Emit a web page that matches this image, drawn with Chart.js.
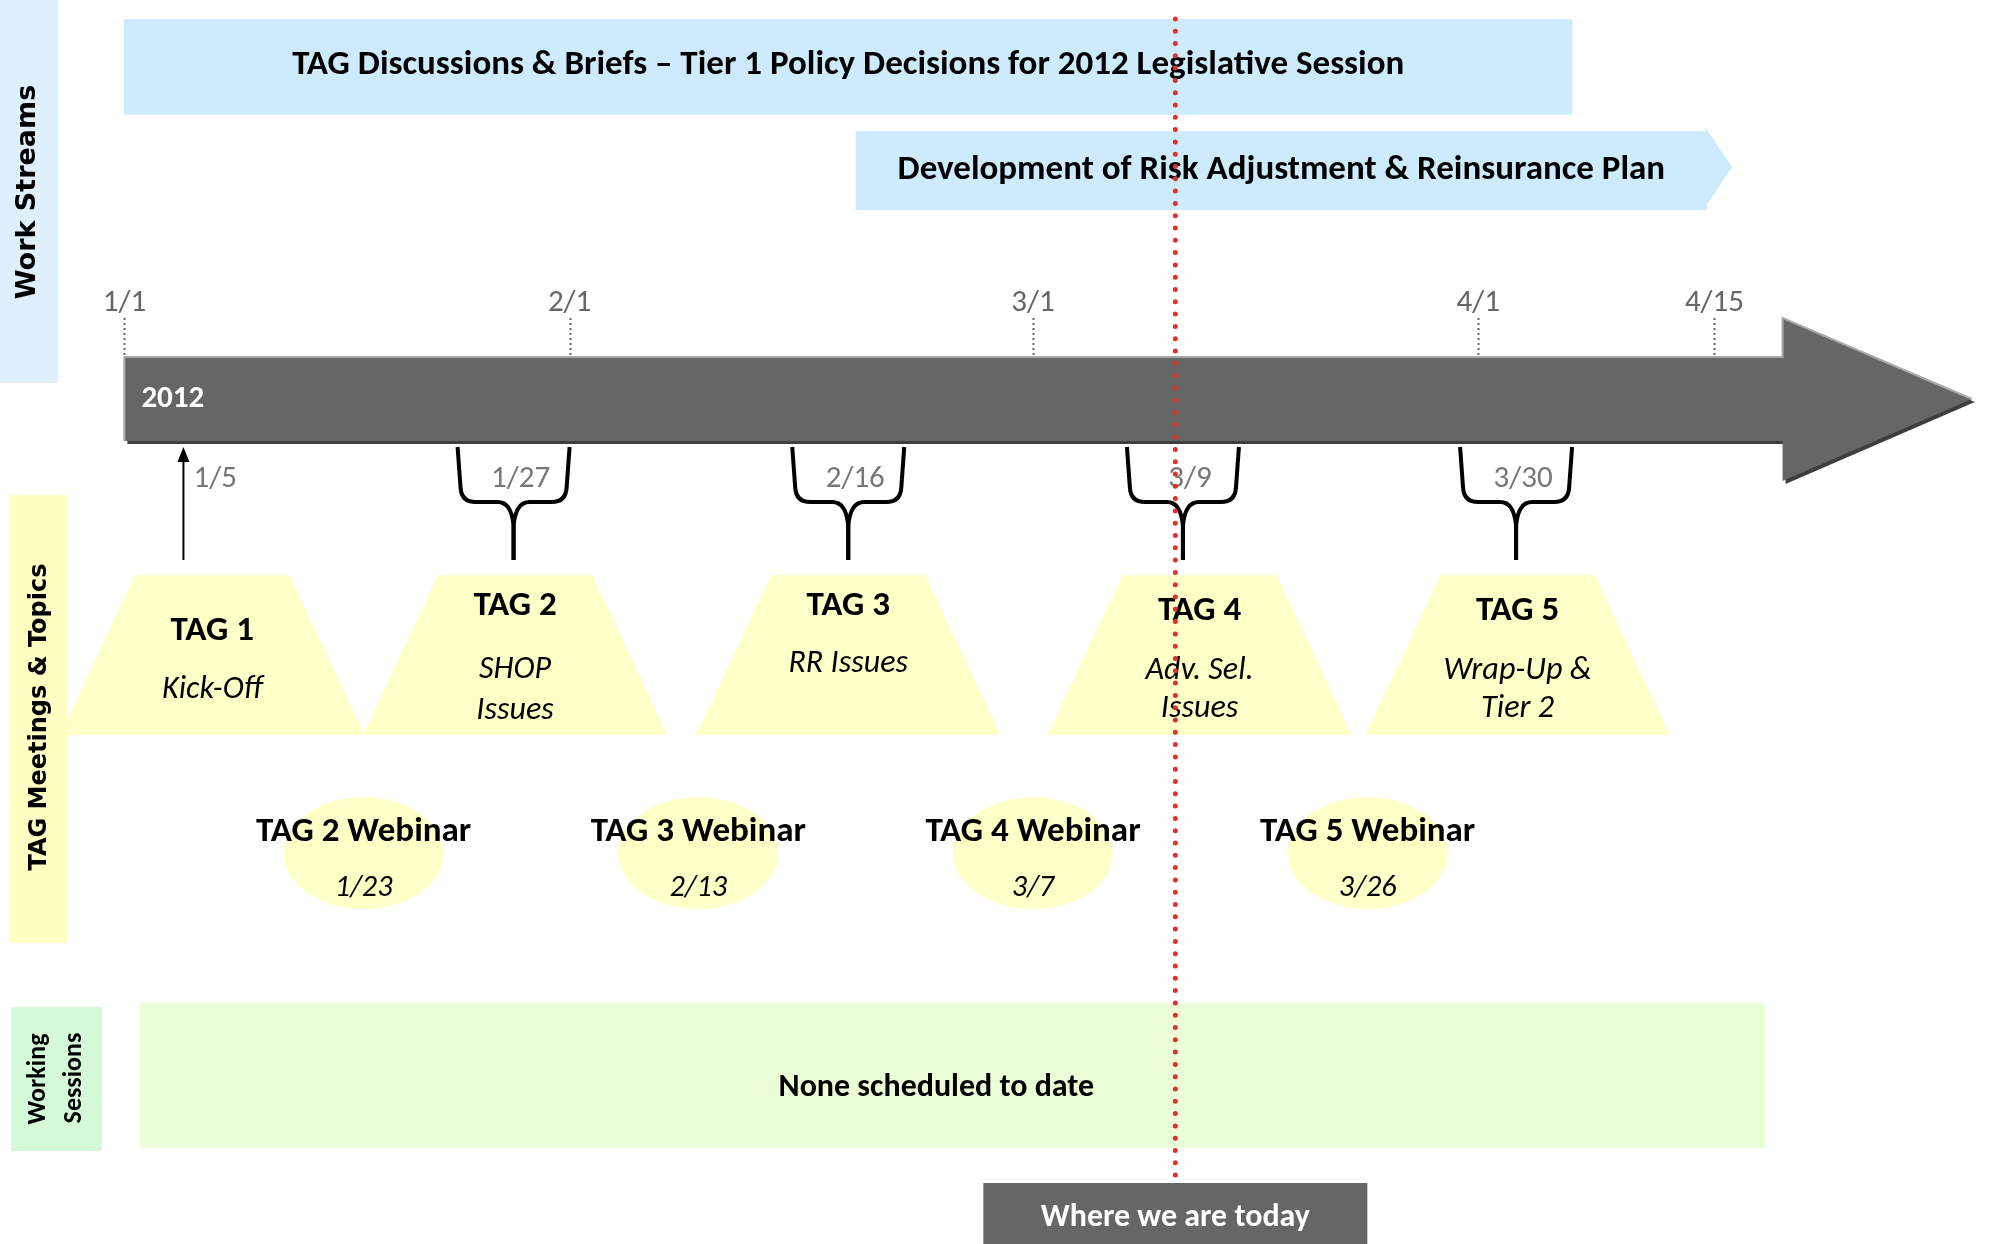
<!DOCTYPE html>
<html><head><meta charset="utf-8">
<script src="https://cdn.jsdelivr.net/npm/chart.js@4.4.1/dist/chart.umd.min.js"></script>
<style>html,body{margin:0;padding:0;background:#fff;overflow:hidden}#wrap{position:relative;width:1990px;height:1244px}</style>
</head><body><div id="wrap"><canvas id="c"></canvas></div>
<script>
// ---------- DATA (positions along the timeline, in days after 1/1/2012, as drawn) ----------
const tickLabels = ['1/1', '2/1', '3/1', '4/1', '4/15'];
const tickPos = [0, 29.4, 60, 89.4, 105];
const timelineYear = '2012';
const timelineSpan = [0, 109.5, 122.0];      // body start, body end, arrow tip
const workStreams = ['TAG Discussions & Briefs \u2013 Tier 1 Policy Decisions for 2012 Legislative Session',
                     'Development of Risk Adjustment & Reinsurance Plan'];
const workStart = [0, 48.3];
const workEnd = [95.6, 104.5];
const meetingNames = ['TAG 1', 'TAG 2', 'TAG 3', 'TAG 4', 'TAG 5'];
const meetingTopics = [['Kick-Off'], ['SHOP', 'Issues'], ['RR Issues'], ['Adv. Sel.', 'Issues'], ['Wrap-Up &', 'Tier 2']];
const meetingDates = ['1/5', '1/27', '2/16', '3/9', '3/30'];
const meetingMarkPos = [3.9, 25.7, 47.8, 69.9, 91.9];
const meetingBoxPos = [5.8, 25.8, 47.8, 71.0, 92.0];
const webinarNames = ['TAG 2 Webinar', 'TAG 3 Webinar', 'TAG 4 Webinar', 'TAG 5 Webinar'];
const webinarDates = ['1/23', '2/13', '3/7', '3/26'];
const webinarPos = [15.8, 37.9, 60.0, 82.1];
const sessionText = 'None scheduled to date';
const sessionSpan = [1.05, 108.3];
const todayPos = 69.4;
const todayLabel = 'Where we are today';
const rowLabels = ['Work Streams', 'TAG Meetings & Topics', ['Working', 'Sessions']];

// ---------- LAYOUT / STYLE ----------
const L = {
  xMin: -7.884, xMax: 122.865, H: 1244,
  ws1Y: 62.5, ws1H: 95, ws2Y: 167, ws2H: 78, chevronW: 25,
  tickLabelY: 301, tickTop: 318, barTop: 357, barBot: 441, headTop: 318, headBot: 481,
  yearY: 397, yearDx: 17,
  markTop: 447, braceMid: 502, markBot: 560, braceHW: 56, dateY: 477,
  trapY: 655, trapH: 160, trapTop: 154, trapBot: 304,
  meetTitleY: [628, 603, 603, 608, 608],
  meetTopicY: [[687], [667, 708], [661], [668, 706], [668, 706]],
  webY: 855, webW: 160, webH: 112, webTitleY: 829, webDateY: 886,
  sessY: 1079, sessH: 144,
  todayTop: 14, todayBot: 1183, todayBoxW: 384, todayTextY: 1215,
  strips: [
    {x: 0, y: 0, w: 58, h: 383, c: '#dfeffc'},
    {x: 9, y: 495, w: 58, h: 448, c: '#ffffc4'},
    {x: 11, y: 1007, w: 91, h: 144, c: '#d4f9d8'}
  ]
};
const BLUE = '#cdebfd', YELLOW = '#ffffc8', GREEN = '#ebfdd6', DARK = '#666666';
const SANS = "Carlito, 'Liberation Sans Narrow', 'Open Sans', 'Liberation Sans', sans-serif";
const WIDE = "'DejaVu Sans', Verdana, sans-serif";

// ---------- helpers ----------
const mctx = document.createElement('canvas').getContext('2d');
function fontStr(o) { return `${o.style || 'normal'} ${o.weight || 'normal'} ${o.size}px ${o.family || SANS}`; }
function ratioFor(text, target, o) { mctx.font = fontStr(o); return Math.min(1, target / mctx.measureText(text).width); }
const R_BOLD = ratioFor(workStreams[0], 1112, {weight: 'bold', size: 35});
const R_ITAL = ratioFor('Wrap-Up &', 148, {style: 'italic', size: 33});
const R_REG = ratioFor('4/15', 62, {size: 31});

function txt(ctx, text, x, cy, o) {
  ctx.save();
  ctx.font = fontStr(o);
  ctx.fillStyle = o.color || '#000';
  ctx.textAlign = o.align || 'center';
  ctx.textBaseline = 'alphabetic';
  const w = ctx.measureText(text).width;
  const r = o.ratio || 1;
  ctx.fillText(text, x, cy + o.size * 0.33, Math.max(1, w * r));
  ctx.restore();
}
function vtxt(ctx, text, x, cy, o) {
  ctx.save();
  ctx.translate(x, cy);
  ctx.rotate(-Math.PI / 2);
  ctx.font = fontStr(o);
  ctx.fillStyle = '#000';
  ctx.textAlign = 'center';
  ctx.textBaseline = 'middle';
  ctx.fillText(text, 0, 0, o.maxW);
  ctx.restore();
}
function makeTrap() {
  const c = document.createElement('canvas'); c.width = L.trapBot; c.height = L.trapH;
  const g = c.getContext('2d'); g.fillStyle = YELLOW; g.beginPath();
  g.moveTo((L.trapBot - L.trapTop) / 2, 0); g.lineTo((L.trapBot + L.trapTop) / 2, 0);
  g.lineTo(L.trapBot, L.trapH); g.lineTo(0, L.trapH); g.closePath(); g.fill(); return c;
}
function makeEllipse() {
  const c = document.createElement('canvas'); c.width = L.webW; c.height = L.webH;
  const g = c.getContext('2d'); g.fillStyle = YELLOW; g.beginPath();
  g.ellipse(L.webW / 2, L.webH / 2, L.webW / 2, L.webH / 2, 0, 0, Math.PI * 2); g.fill(); return c;
}
function drawBrace(ctx, cx) {
  const hw = L.braceHW, t = L.markTop, m = L.braceMid, b = L.markBot;
  ctx.save(); ctx.strokeStyle = '#000'; ctx.lineWidth = 4; ctx.lineJoin = 'round'; ctx.lineCap = 'butt';
  for (const s of [-1, 1]) {
    ctx.beginPath();
    ctx.moveTo(cx + s * hw, t);
    ctx.lineTo(cx + s * (hw - 3), m - 14);
    ctx.quadraticCurveTo(cx + s * (hw - 4), m, cx + s * (hw - 18), m);
    ctx.lineTo(cx + s * 16, m);
    ctx.quadraticCurveTo(cx + s * 2, m, cx, m + 24);
    ctx.lineTo(cx, b);
    ctx.stroke();
  }
  ctx.restore();
}
function drawUpArrow(ctx, cx) {
  ctx.save(); ctx.strokeStyle = '#000'; ctx.fillStyle = '#000'; ctx.lineWidth = 2;
  ctx.beginPath(); ctx.moveTo(cx, L.markBot); ctx.lineTo(cx, L.markTop + 12); ctx.stroke();
  ctx.beginPath(); ctx.moveTo(cx, L.markTop); ctx.lineTo(cx - 6, L.markTop + 15); ctx.lineTo(cx + 6, L.markTop + 15); ctx.closePath(); ctx.fill();
  ctx.restore();
}

// ---------- plugin ----------
const diagram = {
  id: 'diagram',
  beforeDatasetsDraw(chart) {
    const ctx = chart.ctx, xs = chart.scales.x;
    const x0 = xs.getPixelForValue(timelineSpan[0]), x1 = xs.getPixelForValue(timelineSpan[1]), xt = xs.getPixelForValue(timelineSpan[2]);
    const midY = (L.barTop + L.barBot) / 2;
    const poly = (dx, dy) => {
      ctx.beginPath();
      ctx.moveTo(x0 + dx, L.barTop + dy); ctx.lineTo(x1 + dx, L.barTop + dy); ctx.lineTo(x1 + dx, L.headTop + dy);
      ctx.lineTo(xt + dx, midY + dy); ctx.lineTo(x1 + dx, L.headBot + dy); ctx.lineTo(x1 + dx, L.barBot + dy);
      ctx.lineTo(x0 + dx, L.barBot + dy); ctx.closePath();
    };
    ctx.save();
    ctx.fillStyle = '#3e3e3e'; poly(3, 3); ctx.fill();
    ctx.fillStyle = DARK; poly(0, 0); ctx.fill();
    ctx.strokeStyle = '#a8a8a8'; ctx.lineWidth = 2;
    ctx.beginPath(); ctx.moveTo(x0, L.barBot); ctx.lineTo(x0, L.barTop); ctx.lineTo(x1, L.barTop); ctx.lineTo(x1, L.headTop); ctx.lineTo(xt, midY); ctx.stroke();
    // ticks
    ctx.strokeStyle = '#666'; ctx.lineWidth = 2; ctx.setLineDash([2, 3]);
    tickPos.forEach(p => { const x = Math.round(xs.getPixelForValue(p)) + 0.5; ctx.beginPath(); ctx.moveTo(x, L.tickTop); ctx.lineTo(x, L.barTop - 1); ctx.stroke(); });
    ctx.setLineDash([]);
    // chevron tip of second work stream
    const xe = xs.getPixelForValue(workEnd[1]);
    ctx.fillStyle = BLUE; ctx.beginPath();
    ctx.moveTo(xe - 1, L.ws2Y - L.ws2H / 2); ctx.lineTo(xe + L.chevronW, L.ws2Y); ctx.lineTo(xe - 1, L.ws2Y + L.ws2H / 2); ctx.closePath(); ctx.fill();
    ctx.restore();
    // meeting markers
    meetingMarkPos.forEach((p, i) => { const x = xs.getPixelForValue(p); if (i === 0) drawUpArrow(ctx, x); else drawBrace(ctx, x); });
  },
  afterDatasetDraw(chart, args) {
    if (args.index !== 0) return;
    const ctx = chart.ctx, xs = chart.scales.x;
    // row strips and labels
    L.strips.forEach(s => { ctx.fillStyle = s.c; ctx.fillRect(s.x, s.y, s.w, s.h); });
    vtxt(ctx, rowLabels[0], 28, 192, {family: WIDE, weight: 'bold', size: 27, maxW: 216});
    vtxt(ctx, rowLabels[1], 40, 717, {family: WIDE, weight: 'bold', size: 24, maxW: 308});
    vtxt(ctx, rowLabels[2][0], 38, 1079, {weight: 'bold', size: 26, maxW: 94});
    vtxt(ctx, rowLabels[2][1], 74, 1078, {weight: 'bold', size: 26, maxW: 94});
    // work stream titles
    workStreams.forEach((t, i) => {
      const cx = (xs.getPixelForValue(workStart[i]) + xs.getPixelForValue(workEnd[i])) / 2;
      txt(ctx, t, cx, i === 0 ? L.ws1Y : L.ws2Y, {weight: 'bold', size: 35, ratio: R_BOLD});
    });
    // tick labels
    tickLabels.forEach((t, i) => txt(ctx, t, xs.getPixelForValue(tickPos[i]), L.tickLabelY, {size: 31, color: '#666', ratio: R_REG}));
    txt(ctx, timelineYear, xs.getPixelForValue(timelineSpan[0]) + L.yearDx, L.yearY, {weight: 'bold', size: 31, color: '#fff', align: 'left', ratio: R_BOLD});
    // meeting dates & texts
    meetingDates.forEach((d, i) => {
      const x = xs.getPixelForValue(meetingMarkPos[i]);
      if (i === 0) txt(ctx, d, x + 10, L.dateY, {size: 31, color: '#777', align: 'left', ratio: R_REG});
      else txt(ctx, d, x + 7, L.dateY, {size: 31, color: '#777', ratio: R_REG});
    });
    meetingNames.forEach((n, i) => {
      const x = xs.getPixelForValue(meetingBoxPos[i]);
      txt(ctx, n, x, L.meetTitleY[i], {weight: 'bold', size: 35, ratio: R_BOLD});
      meetingTopics[i].forEach((t, j) => txt(ctx, t, x, L.meetTopicY[i][j], {style: 'italic', size: 33, ratio: R_ITAL}));
    });
    webinarNames.forEach((n, i) => {
      const x = xs.getPixelForValue(webinarPos[i]);
      txt(ctx, n, x, L.webTitleY, {weight: 'bold', size: 35, ratio: R_BOLD});
      txt(ctx, webinarDates[i], x, L.webDateY, {style: 'italic', size: 31, ratio: R_ITAL});
    });
    txt(ctx, sessionText, (xs.getPixelForValue(sessionSpan[0]) + xs.getPixelForValue(sessionSpan[1])) / 2 - 16, L.sessY + 6, {weight: 'bold', size: 32, ratio: R_BOLD});
    // today box
    const tx = xs.getPixelForValue(todayPos);
    ctx.fillStyle = DARK; ctx.fillRect(tx - L.todayBoxW / 2, L.todayBot, L.todayBoxW, L.H - L.todayBot);
    txt(ctx, todayLabel, tx, L.todayTextY, {weight: 'bold', size: 32, color: '#fff', ratio: R_BOLD});
  }
};

const yAxis = {type: 'linear', min: 0, max: L.H, reverse: true, display: false, offset: false, grid: {offset: false}};
new Chart(document.getElementById('c'), {
  type: 'scatter',
  data: {
    datasets: [
      {label: 'TAG meetings', data: meetingBoxPos.map(p => ({x: p, y: L.trapY})), pointStyle: makeTrap(), pointRadius: 1, order: 0},
      {label: 'Webinars', data: webinarPos.map(p => ({x: p, y: L.webY})), pointStyle: makeEllipse(), pointRadius: 1, order: 0},
      {type: 'bar', label: workStreams[0], indexAxis: 'y', yAxisID: 'yb1', data: [{x: [workStart[0], workEnd[0]], y: L.ws1Y}], backgroundColor: BLUE, barThickness: L.ws1H, order: 0},
      {type: 'bar', label: workStreams[1], indexAxis: 'y', yAxisID: 'yb2', data: [{x: [workStart[1], workEnd[1]], y: L.ws2Y}], backgroundColor: BLUE, barThickness: L.ws2H, order: 0},
      {type: 'bar', label: 'Working Sessions', indexAxis: 'y', yAxisID: 'yb3', data: [{x: [sessionSpan[0], sessionSpan[1]], y: L.sessY}], backgroundColor: GREEN, barThickness: L.sessH, order: 0},
      {type: 'line', label: 'Today', data: [{x: todayPos, y: L.todayTop}, {x: todayPos, y: L.todayBot}], showLine: true, borderColor: '#e0302a', borderWidth: 5, borderDash: [0, 12.3], borderCapStyle: 'round', pointRadius: 0, order: -1}
    ]
  },
  options: {
    responsive: true, maintainAspectRatio: false, animation: false, events: [],
    layout: {padding: 0},
    plugins: {legend: {display: false}, tooltip: {enabled: false}},
    scales: {
      x: {type: 'linear', min: L.xMin, max: L.xMax, display: false, offset: false, grid: {offset: false}},
      y: yAxis, yb1: Object.assign({}, yAxis), yb2: Object.assign({}, yAxis), yb3: Object.assign({}, yAxis)
    }
  },
  plugins: [diagram]
});
</script></body></html>
